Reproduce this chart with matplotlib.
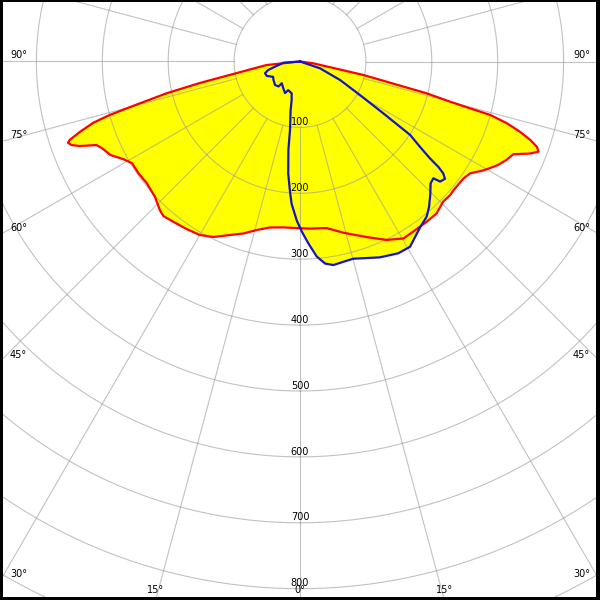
import numpy as np
import matplotlib

matplotlib.use("Agg")
import matplotlib.pyplot as plt
from matplotlib import patches

# luminous intensity (cd/klm), gamma in degrees, 0 = nadir
red_gamma = [-90, -84, -79.4, -77.9, -76.6, -75.1, -74.3, -73.5, -72.3, -71.2, -70.7,
             -69.9, -69.0, -67.7, -66.4, -63.8, -61.0, -58.8, -55.3, -51.5, -47.0,
             -43.3, -41.5, -38.3, -34.1, -30.0, -26.3, -22.0, -18.3, -14.4, -10.3,
             -5.7, 0, 3.4, 9.1, 14.2, 20.8, 25.9, 30.3, 33.6, 38.3, 42.0, 45.6, 48.3,
             50.0, 54.4, 56.7, 59.0, 60.4, 62.4, 64.5, 66.5, 68.2, 69.3, 70.2, 71.2,
             72.3, 73.4, 74.3, 74.6, 75.0, 75.9, 78.0, 82.3, 90]
red_cd = [0, 51, 103, 155, 208, 262, 300, 327, 350, 369, 373,
          369, 358, 334, 328, 321, 306, 298, 298, 297, 301,
          310, 313, 310, 307, 304, 297, 284, 275, 264, 256,
          253, 253, 254, 256, 268, 285, 301, 311, 310, 310, 310, 304, 305,
          304, 305, 309, 322, 329, 339, 347, 353, 376, 387, 382, 369,
          350, 327, 300, 268, 236, 198, 98, 20, 0]

blue_gamma = [-90, -85.9, -78.2, -75.0, -71.4, -66.5, -60.3, -55.3, -46.8, -40.7,
              -40.0, -31.9, -25.3, -22.3, -14.6, -12.2, -10.9, -8.3, -7.5, -6.0,
              -4.5, -3.4, -1.2, 0.6, 2.6, 4.9, 7.1, 9.3, 12.2, 15.1, 22.2, 27.1,
              30.7, 35.8, 39.2, 41.6, 44.3, 47.0, 48.8, 49.4, 51.0, 52.0, 52.7,
              53.3, 54.6, 56.3, 58.1, 60.8, 65.2, 71.2, 90]
blue_cd = [0, 25, 39, 50, 56, 55, 47, 49, 52, 50,
           43, 48, 53, 47, 50, 60, 75, 105, 135, 171,
           196, 216, 241, 258, 276, 297, 309, 313, 311, 310, 321, 327,
           327, 311, 304, 295, 283, 271, 269, 280, 283, 276, 264,
           246, 223, 201, 149, 104, 67, 32, 0]

ring_values = [100, 200, 300, 400, 500, 600, 700, 800, 900]
ring_labels = ["100", "200", "300", "400", "500", "600", "700", "800"]
side_angles = [90, 75, 60, 45, 30]
bottom_angles = [-15, 0, 15]

W = H = 600
CX, CY = 300, 61.5      # pole position, pixels from top-left
PX_PER_CD = 0.659
RMAX = 1000
GRID = dict(color="#999999", lw=0.8, alpha=0.6, zorder=2)
FS = 7

fig = plt.figure(figsize=(6, 6), dpi=100)
R = RMAX * PX_PER_CD
ax = fig.add_axes([(CX - R) / W, (H - CY - R) / H, 2 * R / W, 2 * R / H], projection="polar")
ax.set_theta_zero_location("S")
ax.set_ylim(0, RMAX)
ax.grid(False)
ax.set_xticks([])
ax.set_yticks([])
ax.spines["polar"].set_visible(False)

# curves: both planes filled yellow, outlines on top
ax.fill(np.radians(red_gamma), red_cd, color="#ffff00", lw=0, zorder=1)
ax.fill(np.radians(blue_gamma), blue_cd, color="#ffff00", lw=0, zorder=1)

theta = np.linspace(0, 2 * np.pi, 1441)
for r in ring_values:
    ax.plot(theta, np.full_like(theta, r), **GRID)
for a in range(0, 360, 15):
    ax.plot([np.radians(a)] * 2, [100, RMAX], **GRID)

ax.plot(np.radians(red_gamma), red_cd, color="#ff0000", lw=1.6, zorder=3)
ax.plot(np.radians(blue_gamma), blue_cd, color="#1414c8", lw=1.6, zorder=4)

for r, lab in zip(ring_values, ring_labels):
    ax.text(0, r - 3.5, lab, ha="center", va="baseline", fontsize=FS, zorder=5)

# angle labels where the spokes leave the frame
for g in side_angles:
    y_line = CY if g == 90 else CY + CX / np.tan(np.radians(g))
    fy = (H - (y_line - 4)) / H
    fig.text(10 / W, fy, f"{g}°", ha="left", va="baseline", fontsize=FS)
    fig.text(590 / W, fy, f"{g}°", ha="right", va="baseline", fontsize=FS)
for g in bottom_angles:
    x = CX + (H - CY) * np.tan(np.radians(g))
    fig.text(x / W, 7 / H, f"{abs(g)}°", ha="center", va="baseline", fontsize=FS)

# black frame
for rect in [(0, 0, 3 / W, 1), (0, 1 - 2 / H, 1, 2 / H), (1 - 4 / W, 0, 4 / W, 1), (0, 0, 1, 3 / H)]:
    fig.add_artist(patches.Rectangle(rect[:2], rect[2], rect[3], transform=fig.transFigure,
                                     color="black", lw=0, zorder=10))

fig.savefig("out.png", dpi=100)
